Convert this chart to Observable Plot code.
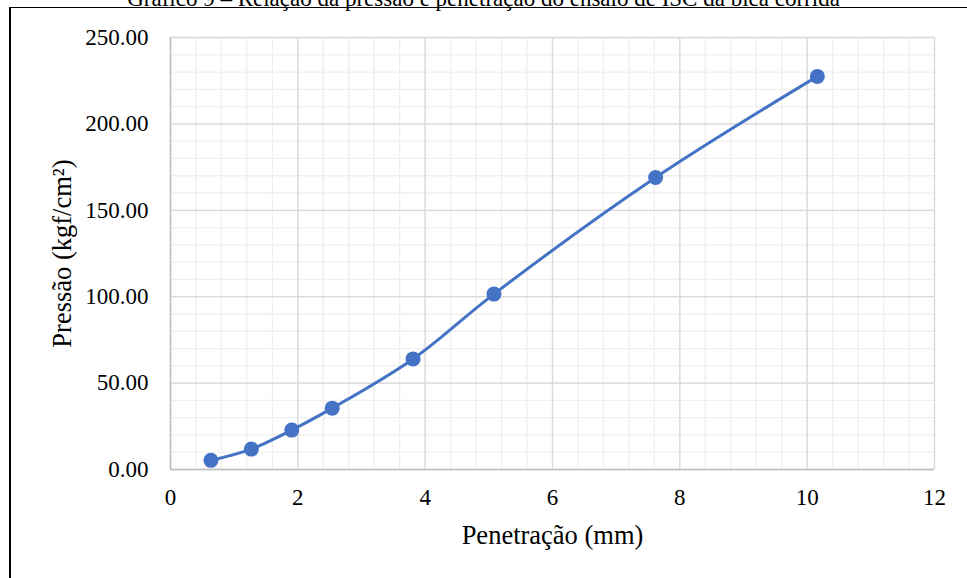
<!DOCTYPE html>
<html>
<head>
<meta charset="utf-8">
<script src="https://cdn.jsdelivr.net/npm/d3@7"></script>
<script src="https://cdn.jsdelivr.net/npm/@observablehq/plot@0.6"></script>
<style>
  html, body { margin: 0; padding: 0; background: #fff; }
  #wrap { position: relative; width: 967px; height: 578px; overflow: hidden; font-family: "Liberation Serif", "Times New Roman", serif; }
  #frame { position: absolute; left: 9px; top: 7px; right: -5px; bottom: -5px; border-left: 2px solid #000; border-top: 1px solid #000; }
  #title { position: absolute; left: 0; width: 967px; top: -13px; text-align: center; font-family: "Liberation Serif", serif; font-size: 23px; line-height: 23px; color: #000; white-space: nowrap; }
  #chart { position: absolute; left: 0; top: 0; }
</style>
</head>
<body>
<div id="wrap">
  <div id="frame"></div>
  <div id="chart"></div>
  <div id="title">Gráfico 9 – Relação da pressão e penetração do ensaio de ISC da bica corrida</div>
</div>
<script>
const penetracao = [0.635, 1.27, 1.905, 2.54, 3.81, 5.08, 7.62, 10.16];
const pressao = [5.3, 11.8, 22.8, 35.5, 64.0, 101.5, 169.0, 227.5];
const xMajor = [0, 2, 4, 6, 8, 10, 12];
const yMajor = [0, 50, 100, 150, 200, 250];
const xMinor = d3.range(0, 12.0001, 0.4).map(v => +v.toFixed(2));
const yMinor = d3.range(0, 250.0001, 10);

const data = penetracao.map((x, i) => ({x, y: pressao[i]}));
const serif = "Liberation Serif, Times New Roman, serif";

const chart = Plot.plot({
  width: 967,
  height: 578,
  marginLeft: 170,
  marginRight: 33,
  marginTop: 37,
  marginBottom: 109,
  style: { fontFamily: serif, fontSize: "23px", color: "#000", background: "transparent" },
  x: { domain: [0, 12], ticks: xMajor, tickSize: 0, label: null },
  y: { domain: [0, 250], ticks: yMajor, tickSize: 0, label: null },
  marks: [
    Plot.ruleX(xMinor, { stroke: "#efefef", strokeWidth: 1.3 }),
    Plot.ruleY(yMinor, { stroke: "#efefef", strokeWidth: 1.3 }),
    Plot.ruleX(xMajor, { stroke: "#d9d9d9", strokeWidth: 1.3 }),
    Plot.ruleY(yMajor, { stroke: "#d9d9d9", strokeWidth: 1.3 }),
    Plot.ruleX([0], { stroke: "#bfbfbf", strokeWidth: 1.5 }),
    Plot.ruleY([0], { stroke: "#bfbfbf", strokeWidth: 1.5 }),
    Plot.axisX({ ticks: xMajor, tickSize: 0, tickPadding: 19, label: null, fontSize: 23, fontFamily: serif, tickFormat: d => String(d) }),
    Plot.axisY({ ticks: yMajor, tickSize: 0, tickPadding: 22, label: null, fontSize: 23, fontFamily: serif, tickFormat: d3.format(".2f") }),
    Plot.line(data, { x: "x", y: "y", stroke: "#4472C4", strokeWidth: 3, curve: "catmull-rom" }),
    Plot.dot(data, { x: "x", y: "y", r: 7.5, fill: "#4472C4", stroke: "#4472C4", strokeWidth: 0 }),
    Plot.text(["Penetração (mm)"], { frameAnchor: "bottom", lineAnchor: "middle", textAnchor: "middle", dy: 66, fontSize: 26.5, fontFamily: serif, fill: "#000" }),
    Plot.text(["Pressão (kgf/cm²)"], { frameAnchor: "left", lineAnchor: "middle", textAnchor: "middle", dx: -108, rotate: -90, fontSize: 26.5, fontFamily: serif, fill: "#000" })
  ]
});
document.getElementById("chart").appendChild(chart);
</script>
</body>
</html>
